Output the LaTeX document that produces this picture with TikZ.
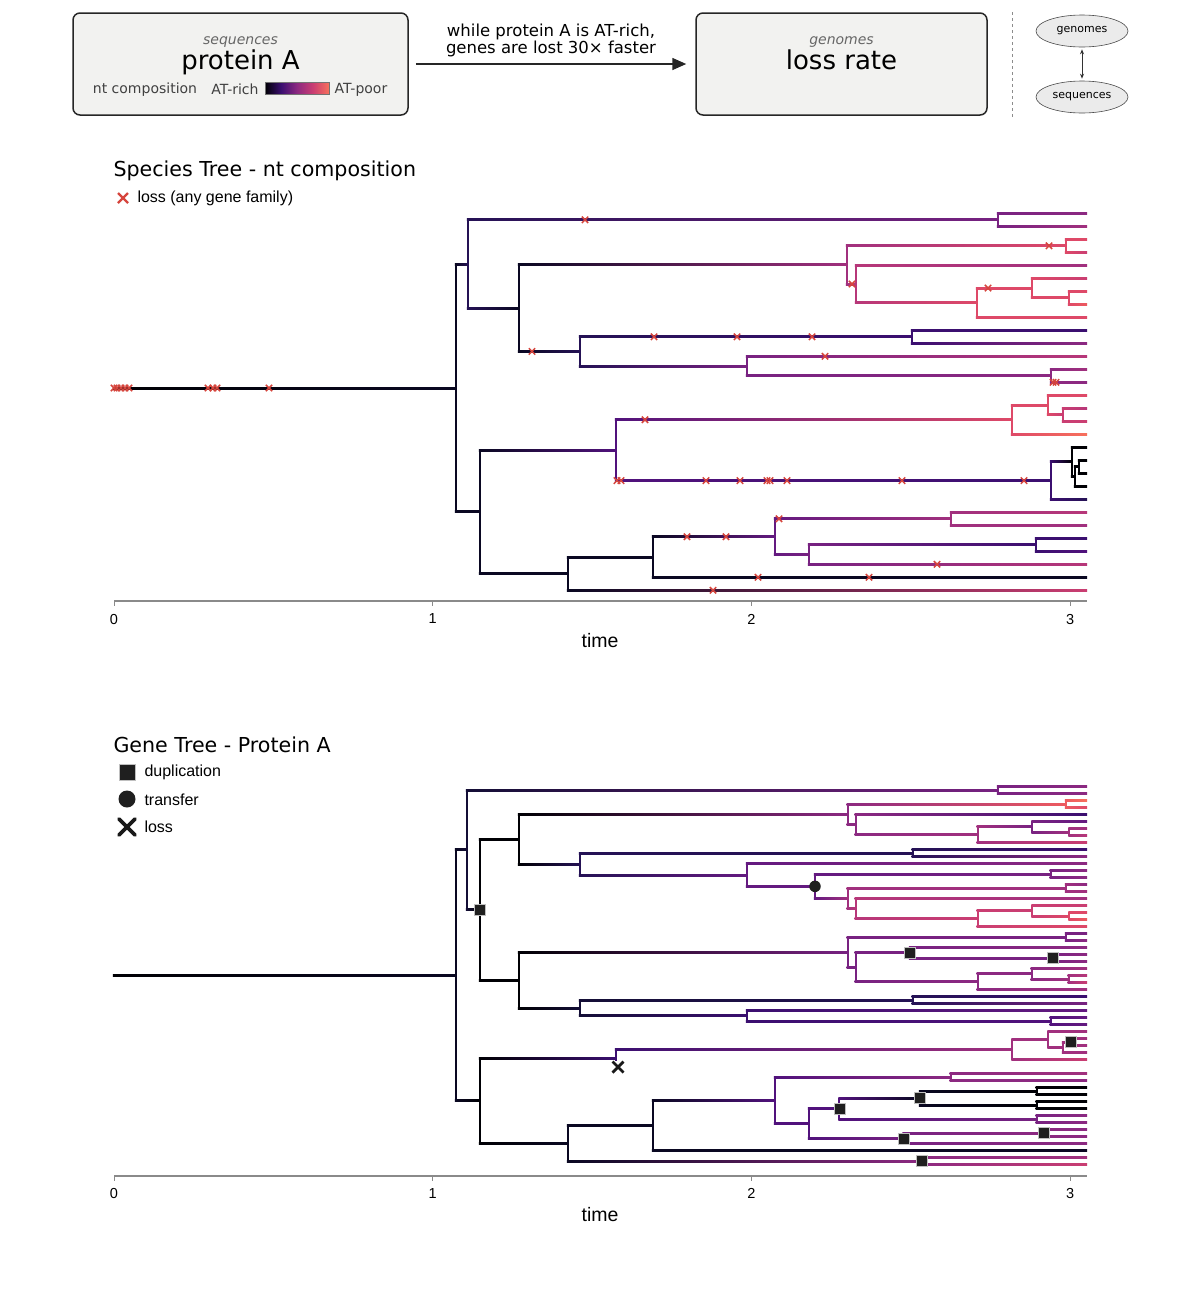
\documentclass[tikz,border=0pt]{standalone}
\usepackage{fontspec}
\setmainfont{DejaVu Sans}
\newfontfamily\arialfont{Liberation Sans}
\usetikzlibrary{arrows.meta,shapes.geometric}

% magma colour steps
\definecolor{m00}{HTML}{000004}
\definecolor{m05}{HTML}{0A0822}
\definecolor{m10}{HTML}{140E36}
\definecolor{m15}{HTML}{251255}
\definecolor{m20}{HTML}{3B0F70}
\definecolor{m25}{HTML}{51127C}
\definecolor{m30}{HTML}{641A80}
\definecolor{m35}{HTML}{782281}
\definecolor{m40}{HTML}{8C2981}
\definecolor{m45}{HTML}{A1307E}
\definecolor{m50}{HTML}{B73779}
\definecolor{m55}{HTML}{CA3E72}
\definecolor{m60}{HTML}{DE4968}
\definecolor{m65}{HTML}{ED5A5F}
\definecolor{m70}{HTML}{F7705C}
\definecolor{losscol}{HTML}{D6453D}
\definecolor{boxfill}{HTML}{F2F2F0}
\definecolor{axiscol}{HTML}{8A8A8A}

\pgfdeclarehorizontalshading{magmabar}{100bp}{color(0bp)=(m00); color(25bp)=(m00);
  color(37.5bp)=(m20); color(50bp)=(m40); color(62.5bp)=(m55); color(75bp)=(m70); color(100bp)=(m70)}

\tikzset{
  topbox/.style={draw=black!85, fill=boxfill, rounded corners=7pt, line width=1.5pt,
    minimum height=102pt, inner sep=0pt},
  subtitle/.style={font=\fontsize{14}{16}\selectfont\itshape, text=black!60},
  bigtitle/.style={font=\fontsize{26}{30}\selectfont, text height=19pt, text depth=6pt},
  note/.style={font=\fontsize{14}{16}\selectfont, text=black!75},
  arrowtext/.style={font=\fontsize{16.5}{17}\selectfont, align=center},
  ell/.style={ellipse, draw=black!70, fill=black!8, line width=0.6pt, minimum width=92pt,
    minimum height=32pt, inner sep=0pt, font=\fontsize{11}{13}\selectfont},
  paneltitle/.style={font=\fontsize{20.6}{24}\selectfont, anchor=west},
  legendtext/.style={font=\arialfont\fontsize{16}{18}\selectfont, anchor=west},
  ticklabel/.style={font=\arialfont\fontsize{14.5}{16}\selectfont},
  axislabel/.style={font=\arialfont\fontsize{19.5}{22}\selectfont},
  dupmark/.style={rectangle, fill=black!88, draw=black!25, line width=0.6pt,
    minimum size=11pt, inner sep=0pt},
  trmark/.style={circle, fill=black!88, minimum size=11.5pt, inner sep=0pt},
}

% elbow branch: parent x, parent y, child x, child y, parent colour, child colour
\newcommand{\branchto}[6]{%
  \draw[#5, line width=2.1pt] (#1,#2) -- (#1,#4);
  \shade[left color=#5, right color=#6] (#1-1.05,#4-1) rectangle (#3,#4+1);}
% branch running to the tips
\newcommand{\leafto}[5]{\branchto{#1}{#2}{1087}{#3}{#4}{#5}}

\begin{document}
\begin{tikzpicture}[x=1pt,y=-1pt]
\useasboundingbox[fill=white] (0,0) rectangle (1200,1302);

% header
\node[topbox, minimum width=335pt] (seqbox) at (240.5,64) {};
\node[subtitle] (seqsub) at (240.5,42) {sequences};
\node[bigtitle] (seqname) at (240.5,62.5) {protein A};
\node[note] (ntlabel) at (145,89.5) {nt composition};
\node[note] (richlabel) at (235,89.5) {AT-rich};
\shade[shading=magmabar, draw=black!55, line width=0.5pt] (265,82) rectangle (329,94);
\node[note] (poorlabel) at (361,89.5) {AT-poor};
\node[topbox, minimum width=291pt] (lossbox) at (841.5,64) {};
\node[subtitle] (lossub) at (841.5,42) {genomes};
\node[bigtitle] (lossname) at (841.5,62.5) {loss rate};
\draw[-{Triangle[length=14pt,width=12pt]}, line width=1.6pt, black!85, shorten <=7pt, shorten >=9pt]
  (seqbox) -- (lossbox);
\node[arrowtext] (arrowlabel) at (551,40) {while protein A is AT-rich,\\genes are lost 30× faster};
\draw[black!45, dashed, line width=0.8pt] (1012,12) -- (1012,118);
\node[ell] (genomes) at (1082,31) {genomes};
\node[ell] (sequences) at (1082,97) {sequences};
\draw[{Stealth[length=5pt,width=4pt]}-{Stealth[length=5pt,width=4pt]}, black!80, line width=0.8pt,
  shorten <=2pt, shorten >=2pt] (genomes) -- (sequences);

% species tree
\node[paneltitle] (sptitle) at (110,171) {Species Tree - nt composition};
\draw[losscol, line width=2.2pt] (118,193) -- (128,203) (118,203) -- (128,193);
\node[legendtext] (losslegend) at (134,198.5) {loss (any gene family)};

\branchto{114}{388}{456}{388}{m00}{m05}
\branchto{456}{388}{468}{264}{m05}{m15}
\branchto{456}{388}{480}{511.9}{m05}{m05}
% upper clade
\branchto{468}{264}{998}{219.8}{m15}{m35}
\leafto{998}{219.8}{213.3}{m35}{m40}
\leafto{998}{219.8}{226.3}{m35}{m45}
\branchto{468}{264}{519}{308.2}{m15}{m05}
\branchto{519}{308.2}{847}{264.9}{m05}{m45}
\branchto{847}{264.9}{1066}{245.8}{m45}{m60}
\leafto{1066}{245.8}{239.3}{m60}{m60}
\leafto{1066}{245.8}{252.3}{m60}{m55}
\branchto{847}{264.9}{856}{284}{m45}{m50}
\leafto{856}{284}{265.3}{m50}{m45}
\branchto{856}{284}{977}{302.7}{m50}{m60}
\branchto{977}{302.7}{1032}{288.05}{m60}{m60}
\leafto{1032}{288.05}{278.3}{m60}{m55}
\branchto{1032}{288.05}{1069}{297.8}{m60}{m60}
\leafto{1069}{297.8}{291.3}{m60}{m60}
\leafto{1069}{297.8}{304.3}{m60}{m65}
\leafto{977}{302.7}{317.3}{m60}{m60}
\branchto{519}{308.2}{580}{351.4}{m05}{m15}
\branchto{580}{351.4}{912}{336.8}{m15}{m20}
\leafto{912}{336.8}{330.3}{m20}{m20}
\leafto{912}{336.8}{343.3}{m20}{m40}
\branchto{580}{351.4}{747}{366.05}{m15}{m35}
\leafto{747}{366.05}{356.3}{m35}{m50}
\branchto{747}{366.05}{1051}{375.8}{m35}{m40}
\leafto{1051}{375.8}{369.3}{m40}{m45}
\leafto{1051}{375.8}{382.3}{m40}{m40}
% lower clade
\branchto{480}{511.9}{616}{450.15}{m05}{m25}
\branchto{616}{450.15}{1012}{419.7}{m25}{m60}
\branchto{1012}{419.7}{1048}{405.05}{m60}{m60}
\leafto{1048}{405.05}{395.3}{m60}{m60}
\branchto{1048}{405.05}{1063}{414.8}{m60}{m55}
\leafto{1063}{414.8}{408.3}{m55}{m50}
\leafto{1063}{414.8}{421.3}{m55}{m55}
\leafto{1012}{419.7}{434.3}{m60}{m70}
\branchto{616}{450.15}{1051}{480.6}{m25}{m20}
\branchto{1051}{480.6}{1072}{461.9}{m20}{m00}
\leafto{1072}{461.9}{447.3}{m00}{m00}
\branchto{1072}{461.9}{1075}{476.55}{m00}{m00}
\branchto{1075}{476.55}{1079}{466.8}{m00}{m00}
\leafto{1079}{466.8}{460.3}{m00}{m00}
\leafto{1079}{466.8}{473.3}{m00}{m00}
\leafto{1075}{476.55}{486.3}{m00}{m00}
\leafto{1051}{480.6}{499.3}{m20}{m15}
\branchto{480}{511.9}{568}{573.65}{m05}{m05}
\branchto{568}{573.65}{653}{557}{m05}{m05}
\branchto{653}{557}{775}{536.7}{m05}{m30}
\branchto{775}{536.7}{951}{518.8}{m30}{m45}
\leafto{951}{518.8}{512.3}{m45}{m50}
\leafto{951}{518.8}{525.3}{m45}{m45}
\branchto{775}{536.7}{809}{554.55}{m30}{m35}
\branchto{809}{554.55}{1036}{544.8}{m35}{m20}
\leafto{1036}{544.8}{538.3}{m20}{m20}
\leafto{1036}{544.8}{551.3}{m20}{m25}
\leafto{809}{554.55}{564.3}{m35}{m50}
\leafto{653}{557}{577.3}{m05}{m05}
\leafto{568}{573.65}{590.3}{m05}{m55}

% losses
\foreach \lx/\ly in {114/388,117/388,121/388,125/388,129/388,208/388,213/388,217/388,269/388,
    585/219.8,532/351.4,654/336.8,737/336.8,812/336.8,825/356.3,1049/245.8,852/284,988/288.05,
    1053/382.3,1056/382.3,645/419.7,617/480.6,621/480.6,706/480.6,740/480.6,767/480.6,770/480.6,
    787/480.6,902/480.6,1024/480.6,779/518.8,687/536.7,726/536.7,937/564.3,758/577.3,869/577.3,713/590.3}
  \draw[losscol, line width=1.5pt] (\lx-3.2,\ly-3.2) -- (\lx+3.2,\ly+3.2) (\lx-3.2,\ly+3.2) -- (\lx+3.2,\ly-3.2);

% time axis
\draw[axiscol, line width=1.2pt] (114,601) -- (1087,601);
\foreach \t in {0,...,3}{
  \draw[axiscol, line width=1pt] (114+318.7*\t,601) -- (114+318.7*\t,606);
  \node[ticklabel] (sptick\t) at (114+318.7*\t,619) {\t};
}
\node[axislabel] (sptime) at (600,641) {time};

% gene tree
\node[paneltitle] (gntitle) at (110,745) {Gene Tree - Protein A};
\node[dupmark, minimum size=16pt] (duplegend) at (127,772) {};
\node[legendtext] (duptext) at (141,772.5) {duplication};
\node[trmark, minimum size=17pt] (trlegend) at (127,799) {};
\node[legendtext] (trtext) at (141,799.5) {transfer};
\draw[black!90, line width=3.6pt, line cap=round] (119,819) -- (135,835) (119,835) -- (135,819);
\node[legendtext] (losstext) at (141,827) {loss};

\branchto{114}{975.4}{456}{975.4}{m00}{m05}
\branchto{456}{975.4}{467}{849.95}{m05}{m10}
\branchto{467}{849.95}{998}{790.2}{m10}{m35}
\leafto{998}{790.2}{786.7}{m35}{m40}
\leafto{998}{790.2}{793.7}{m35}{m40}
\branchto{467}{849.95}{480}{909.75}{m10}{m00}
% first copy
\branchto{480}{909.75}{519}{839.3}{m00}{m00}
\branchto{519}{839.3}{847.7}{814.5}{m00}{m40}
\branchto{847.7}{814.5}{1066}{804.2}{m40}{m65}
\leafto{1066}{804.2}{800.7}{m65}{m70}
\leafto{1066}{804.2}{807.7}{m65}{m60}
\branchto{847.7}{814.5}{855.7}{824.75}{m40}{m40}
\leafto{855.7}{824.75}{814.7}{m40}{m20}
\branchto{855.7}{824.75}{977.7}{834.8}{m40}{m45}
\branchto{977.7}{834.8}{1032.3}{826.95}{m45}{m35}
\leafto{1032.3}{826.95}{821.7}{m35}{m30}
\branchto{1032.3}{826.95}{1069.3}{832.2}{m35}{m45}
\leafto{1069.3}{832.2}{828.7}{m45}{m45}
\leafto{1069.3}{832.2}{835.7}{m45}{m50}
\leafto{977.7}{834.8}{842.7}{m45}{m55}
\branchto{519}{839.3}{580}{864.1}{m00}{m15}
\branchto{580}{864.1}{912.7}{853.2}{m15}{m15}
\leafto{912.7}{853.2}{849.7}{m15}{m20}
\leafto{912.7}{853.2}{856.7}{m15}{m40}
\branchto{580}{864.1}{747}{875.0}{m15}{m30}
\leafto{747}{875.0}{863.7}{m30}{m40}
\branchto{747}{875.0}{815}{886.35}{m30}{m30}
\branchto{815}{886.35}{1050.7}{874.2}{m30}{m35}
\leafto{1050.7}{874.2}{870.7}{m35}{m40}
\leafto{1050.7}{874.2}{877.7}{m35}{m40}
\branchto{815}{886.35}{847.7}{898.5}{m30}{m45}
\branchto{847.7}{898.5}{1066}{888.2}{m45}{m45}
\leafto{1066}{888.2}{884.7}{m45}{m40}
\leafto{1066}{888.2}{891.7}{m45}{m45}
\branchto{847.7}{898.5}{855.7}{908.75}{m45}{m50}
\leafto{855.7}{908.75}{898.7}{m50}{m45}
\branchto{855.7}{908.75}{977.7}{918.8}{m50}{m55}
\branchto{977.7}{918.8}{1032.3}{910.95}{m55}{m55}
\leafto{1032.3}{910.95}{905.7}{m55}{m55}
\branchto{1032.3}{910.95}{1069.3}{916.2}{m55}{m60}
\leafto{1069.3}{916.2}{912.7}{m60}{m60}
\leafto{1069.3}{916.2}{919.7}{m60}{m65}
\leafto{977.7}{918.8}{926.7}{m55}{m60}
% second copy
\branchto{480}{909.75}{519}{980.2}{m00}{m00}
\branchto{519}{980.2}{847.7}{952.3}{m00}{m35}
\branchto{847.7}{952.3}{1066}{937.2}{m35}{m35}
\leafto{1066}{937.2}{933.7}{m35}{m35}
\leafto{1066}{937.2}{940.7}{m35}{m40}
\branchto{847.7}{952.3}{855.7}{967.4}{m35}{m35}
\branchto{855.7}{967.4}{910}{952.95}{m35}{m35}
\leafto{910}{952.95}{947.7}{m35}{m40}
\branchto{910}{952.95}{1052.3}{958.2}{m35}{m35}
\leafto{1052.3}{958.2}{954.7}{m35}{m40}
\leafto{1052.3}{958.2}{961.7}{m35}{m40}
\branchto{855.7}{967.4}{977.7}{981.8}{m35}{m40}
\branchto{977.7}{981.8}{1031.7}{973.95}{m40}{m40}
\leafto{1031.7}{973.95}{968.7}{m40}{m45}
\branchto{1031.7}{973.95}{1068.7}{979.2}{m40}{m45}
\leafto{1068.7}{979.2}{975.7}{m45}{m50}
\leafto{1068.7}{979.2}{982.7}{m45}{m55}
\leafto{977.7}{981.8}{989.7}{m40}{m45}
\branchto{519}{980.2}{580}{1008.1}{m00}{m10}
\branchto{580}{1008.1}{912.7}{1000.2}{m10}{m15}
\leafto{912.7}{1000.2}{996.7}{m15}{m20}
\leafto{912.7}{1000.2}{1003.7}{m15}{m35}
\branchto{580}{1008.1}{747}{1015.95}{m10}{m20}
\leafto{747}{1015.95}{1010.7}{m20}{m30}
\branchto{747}{1015.95}{1050.7}{1021.2}{m20}{m25}
\leafto{1050.7}{1021.2}{1017.7}{m25}{m30}
\leafto{1050.7}{1021.2}{1024.7}{m25}{m30}
% lower half
\branchto{456}{975.4}{480}{1100.8}{m05}{m00}
\branchto{480}{1100.8}{616}{1058.2}{m00}{m20}
\branchto{616}{1058.2}{1012.3}{1049.65}{m20}{m45}
\branchto{1012.3}{1049.65}{1048.3}{1039.6}{m45}{m45}
\leafto{1048.3}{1039.6}{1031.7}{m45}{m45}
\branchto{1048.3}{1039.6}{1063}{1047.45}{m45}{m45}
\branchto{1063}{1047.45}{1070.3}{1042.2}{m45}{m45}
\leafto{1070.3}{1042.2}{1038.7}{m45}{m45}
\leafto{1070.3}{1042.2}{1045.7}{m45}{m45}
\leafto{1063}{1047.45}{1052.7}{m45}{m45}
\leafto{1012.3}{1049.65}{1059.7}{m45}{m55}
\draw[m20, line width=2.1pt] (616,1058.2) -- (616,1061);
\branchto{480}{1100.8}{568}{1143.4}{m00}{m05}
\branchto{568}{1143.4}{653}{1125.55}{m05}{m05}
\branchto{653}{1125.55}{775}{1100.4}{m05}{m25}
\branchto{775}{1100.4}{950.7}{1077.2}{m25}{m40}
\leafto{950.7}{1077.2}{1073.7}{m40}{m45}
\leafto{950.7}{1077.2}{1080.7}{m40}{m40}
\branchto{775}{1100.4}{809}{1123.6}{m25}{m25}
\branchto{809}{1123.6}{839.3}{1108.7}{m25}{m25}
\branchto{839.3}{1108.7}{920}{1098.2}{m25}{m05}
\branchto{920}{1098.2}{1036.7}{1091.2}{m05}{m00}
\leafto{1036.7}{1091.2}{1087.7}{m00}{m00}
\leafto{1036.7}{1091.2}{1094.7}{m00}{m00}
\branchto{920}{1098.2}{1036.7}{1105.2}{m05}{m00}
\leafto{1036.7}{1105.2}{1101.7}{m00}{m00}
\leafto{1036.7}{1105.2}{1108.7}{m00}{m00}
\branchto{839.3}{1108.7}{1036.7}{1119.2}{m25}{m35}
\leafto{1036.7}{1119.2}{1115.7}{m35}{m40}
\leafto{1036.7}{1119.2}{1122.7}{m35}{m40}
\branchto{809}{1123.6}{903.3}{1138.45}{m25}{m35}
\branchto{903.3}{1138.45}{1043.3}{1133.2}{m35}{m40}
\leafto{1043.3}{1133.2}{1129.7}{m40}{m40}
\leafto{1043.3}{1133.2}{1136.7}{m40}{m40}
\leafto{903.3}{1138.45}{1143.7}{m35}{m40}
\leafto{653}{1125.55}{1150.7}{m05}{m05}
\branchto{568}{1143.4}{921.7}{1161.2}{m05}{m40}
\leafto{921.7}{1161.2}{1157.7}{m40}{m45}
\leafto{921.7}{1161.2}{1164.7}{m40}{m55}

% events
\foreach \dx/\dy [count=\i] in {480/909.75,910/952.95,1052.3/958.2,1070.3/1042.2,920/1098.2,
    839.3/1108.7,903.3/1138.45,1043.3/1133.2,921.7/1161.2}
  \node[dupmark] (dup\i) at (\dx,\dy) {};
\node[trmark] (transfer) at (815,886.35) {};
\draw[black!90, line width=2.8pt] (612.5,1061.5) -- (623.5,1072.5) (612.5,1072.5) -- (623.5,1061.5);

% time axis
\draw[axiscol, line width=1.2pt] (114,1176) -- (1087,1176);
\foreach \t in {0,...,3}{
  \draw[axiscol, line width=1pt] (114+318.7*\t,1176) -- (114+318.7*\t,1181);
  \node[ticklabel] (gntick\t) at (114+318.7*\t,1193) {\t};
}
\node[axislabel] (gntime) at (600,1215) {time};
\end{tikzpicture}
\end{document}
